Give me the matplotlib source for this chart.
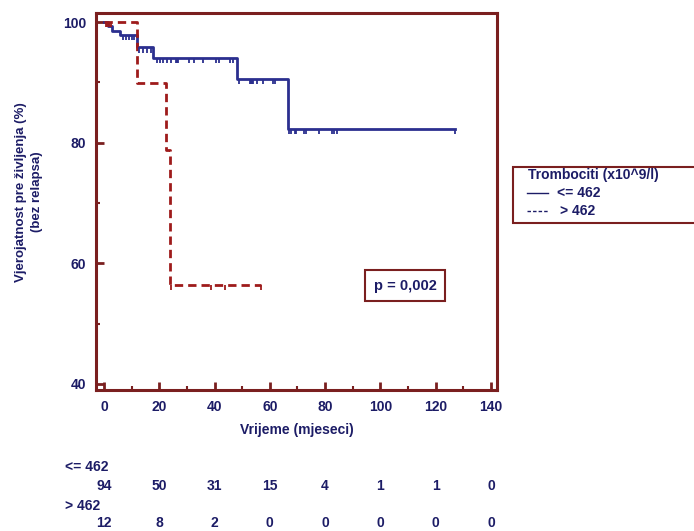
import numpy as np
import matplotlib
matplotlib.use("Agg")
import matplotlib.pyplot as plt
from matplotlib.patches import Rectangle
from matplotlib.lines import Line2D
from matplotlib.transforms import blended_transform_factory

# Kaplan-Meier curves
low_t = [0, 1.6, 2.8, 5.8, 11.8, 17.9, 48.2, 66.5, 127]
low_s = [100, 99.4, 98.6, 97.8, 95.8, 94.0, 90.5, 82.3, 82.3]
low_cens = [7, 8, 9, 10, 10.7, 12.7, 14.1, 15.6, 17.1, 19.1, 20.3, 21.5, 22.9,
            24.1, 26.0, 26.4, 26.8, 30.9, 32.6, 35.9, 40.5, 41.7, 45.6, 46.8,
            49.0, 52.8, 53.2, 53.6, 54.0, 55.5, 57.6, 61.0, 61.9, 66.8, 67.6,
            69.1, 69.5, 72.4, 73.1, 77.8, 82.4, 83.2, 84.2, 127]

high_t = [0, 11.8, 22.4, 23.9, 56.8]
high_s = [100, 89.9, 78.8, 56.4, 56.4]
high_cens = [0.6, 1.2, 1.8, 2.4, 24.3, 38.9, 43.8, 56.8]

risk_times = [0, 20, 40, 60, 80, 100, 120, 140]
risk_low = [94, 50, 31, 15, 4, 1, 1, 0]
risk_high = [12, 8, 2, 0, 0, 0, 0, 0]

navy = '#1c1c66'
blue = '#2b2f8f'
red = '#9e1b1b'
brown = '#7a1f1f'

plt.rcParams['font.family'] = ['Liberation Sans', 'DejaVu Sans']
plt.rcParams['font.weight'] = 'bold'
plt.rcParams['axes.labelweight'] = 'bold'

fig = plt.figure(figsize=(6.94, 5.31), dpi=100)
ax = fig.add_axes([0.1383, 0.2655, 0.5778, 0.71])


def level(ts, ss, t):
    i = np.searchsorted(ts, t, side='right') - 1
    return np.array(ss)[i]


ax.step(low_t, low_s, where='post', color=blue, lw=2.0)
ax.step(high_t, high_s, where='post', color=red, lw=2.0, dashes=(3, 1.8))

lv = level(low_t, low_s, low_cens)
ax.vlines(low_cens, lv - 0.85, lv, color=blue, lw=1.3)
hv = level(high_t, high_s, high_cens)
ax.vlines(high_cens, hv - 0.85, hv, color=red, lw=1.3)

ax.set_xlim(-2.9, 142.2)
ax.set_ylim(39.0, 101.5)
ax.set_xticks(np.arange(0, 141, 20))
ax.set_xticks(np.arange(10, 140, 20), minor=True)
ax.set_yticks([40, 60, 80, 100])
ax.set_yticks([50, 70, 90], minor=True)
ax.tick_params(which='major', direction='in', length=6, width=2, color=brown,
               labelsize=10, labelcolor=navy, pad=7)
ax.tick_params(which='minor', direction='in', length=3, width=1.5, color=brown)
for s in ax.spines.values():
    s.set_color(brown)
    s.set_linewidth(2.2)

ax.set_xlabel('Vrijeme (mjeseci)', fontsize=10, color=navy, labelpad=7,
              fontweight='bold')
fig.text(0.042, 1 - 192 / 531, 'Vjerojatnost pre življenja (%)\n(bez relapsa)',
         rotation=90, ha='center', va='center', fontsize=9.5, color=navy,
         linespacing=1.5, fontweight='bold')

# p-value box
ax.text(0.771, 0.277, 'p = 0,002', transform=ax.transAxes, ha='center',
        va='center', fontsize=10.5, color=navy, fontweight='bold',
        bbox=dict(boxstyle='square,pad=0.6', fc='white', ec=brown, lw=1.5))

# legend box (runs off the right edge)
fig.patches.append(Rectangle((513 / 694, 1 - 223 / 531), 0.3, 56 / 531,
                             transform=fig.transFigure, fc='white', ec=brown,
                             lw=1.5, clip_on=False))
fig.text(528 / 694, 1 - 175 / 531, 'Trombociti (x10^9/l)', fontsize=10,
         color=navy, va='center', fontweight='bold')
fig.lines.append(Line2D([527 / 694, 548 / 694], [1 - 193 / 531] * 2,
                        transform=fig.transFigure, color=navy, lw=1.0))
fig.lines.append(Line2D([527 / 694, 548 / 694], [1 - 211 / 531] * 2,
                        transform=fig.transFigure, color=navy, lw=1.0,
                        dashes=(2.5, 1.5)))
fig.text(557 / 694, 1 - 193 / 531, '<= 462', fontsize=10,
         color=navy, va='center', fontweight='bold')
fig.text(560 / 694, 1 - 211 / 531, '> 462', fontsize=10,
         color=navy, va='center', fontweight='bold')

# numbers at risk
tr = blended_transform_factory(ax.transData, fig.transFigure)
fig.text(65 / 694, 1 - 467 / 531, '<= 462', fontsize=10, color=navy,
         va='center', fontweight='bold')
fig.text(65 / 694, 1 - 506 / 531, '> 462', fontsize=10, color=navy,
         va='center', fontweight='bold')
for t, a, b in zip(risk_times, risk_low, risk_high):
    ax.text(t, 1 - 486 / 531, str(a), transform=tr, ha='center', va='center',
            fontsize=10, color=navy, fontweight='bold')
    ax.text(t, 1 - 523 / 531, str(b), transform=tr, ha='center', va='center',
            fontsize=10, color=navy, fontweight='bold')

fig.savefig('out.png', dpi=100)
